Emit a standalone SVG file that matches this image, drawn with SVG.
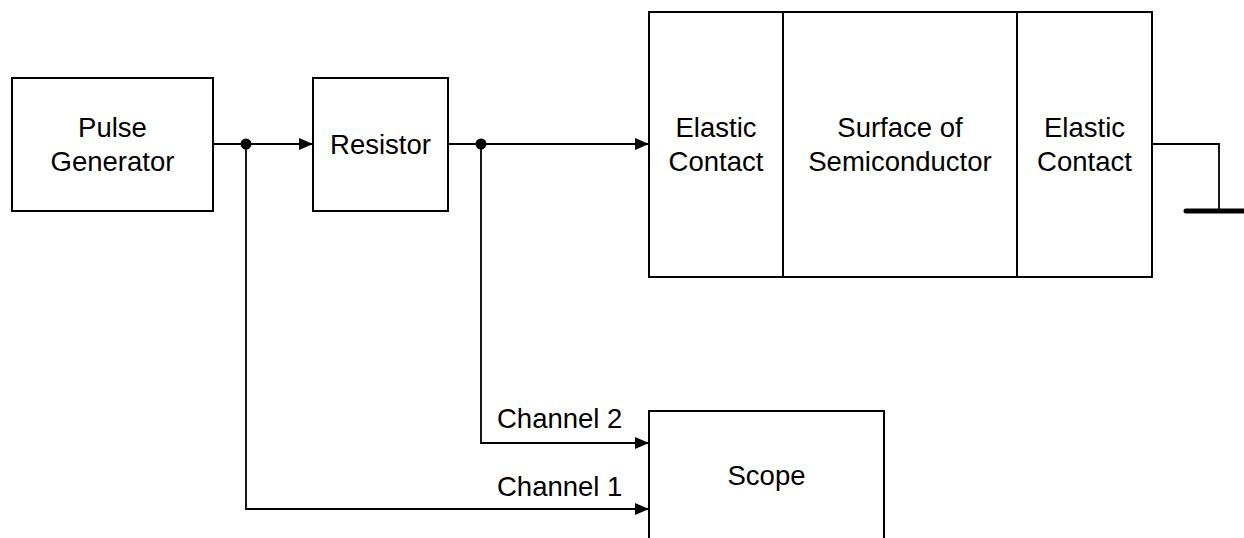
<svg xmlns="http://www.w3.org/2000/svg" width="1244" height="538" viewBox="0 0 1244 538">
  <style>
    .box { fill: #ffffff; stroke: #000000; stroke-width: 2; }
    .wire { fill: none; stroke: #000000; stroke-width: 1.8; }
    .lbl { font-family: "Liberation Sans", Arial, sans-serif; font-size: 27.5px; fill: #000000; text-anchor: middle; }
    .ch { font-family: "Liberation Sans", Arial, sans-serif; font-size: 27.5px; fill: #000000; }
  </style>
  <defs>
    <marker id="arrow" viewBox="0 0 14 12" refX="14" refY="6" markerWidth="14" markerHeight="12" markerUnits="userSpaceOnUse" orient="auto">
      <path d="M0,0 L14,6 L0,12 Z" fill="#000000"/>
    </marker>
  </defs>

  <rect width="1244" height="538" fill="#ffffff"/>

  <!-- connectors -->
  <g id="connectors">
    <line class="wire" x1="213" y1="144" x2="313" y2="144" marker-end="url(#arrow)"/>
    <line class="wire" x1="448" y1="144" x2="649" y2="144" marker-end="url(#arrow)"/>
    <polyline class="wire" points="246,144 246,509 649,509" marker-end="url(#arrow)"/>
    <polyline class="wire" points="481,144 481,443 649,443" marker-end="url(#arrow)"/>
    <circle cx="246" cy="144" r="5.5" fill="#000000"/>
    <circle cx="481" cy="144" r="5.5" fill="#000000"/>
    <!-- ground return -->
    <polyline class="wire" points="1152,144 1219,144 1219,211"/>
    <line x1="1186" y1="211" x2="1246" y2="211" stroke="#000000" stroke-width="5" stroke-linecap="round"/>
    <text class="ch" x="497" y="428">Channel 2</text>
    <text class="ch" x="497" y="496">Channel 1</text>
  </g>

  <g id="pulse-generator">
    <rect class="box" x="12" y="78" width="201" height="133"/>
    <text class="lbl" x="112.5" y="137">Pulse</text>
    <text class="lbl" x="112.5" y="171">Generator</text>
  </g>

  <g id="resistor">
    <rect class="box" x="313" y="78" width="135" height="133"/>
    <text class="lbl" x="380.5" y="154">Resistor</text>
  </g>

  <g id="elastic-contact-left">
    <rect class="box" x="649" y="12" width="134" height="265"/>
    <text class="lbl" x="716" y="137">Elastic</text>
    <text class="lbl" x="716" y="171">Contact</text>
  </g>

  <g id="semiconductor-surface">
    <rect class="box" x="783" y="12" width="234" height="265"/>
    <text class="lbl" x="900" y="137">Surface of</text>
    <text class="lbl" x="900" y="171">Semiconductor</text>
  </g>

  <g id="elastic-contact-right">
    <rect class="box" x="1017" y="12" width="135" height="265"/>
    <text class="lbl" x="1084.5" y="137">Elastic</text>
    <text class="lbl" x="1084.5" y="171">Contact</text>
  </g>

  <g id="scope">
    <rect class="box" x="649" y="411" width="235" height="140"/>
    <text class="lbl" x="766.5" y="485">Scope</text>
  </g>
</svg>
